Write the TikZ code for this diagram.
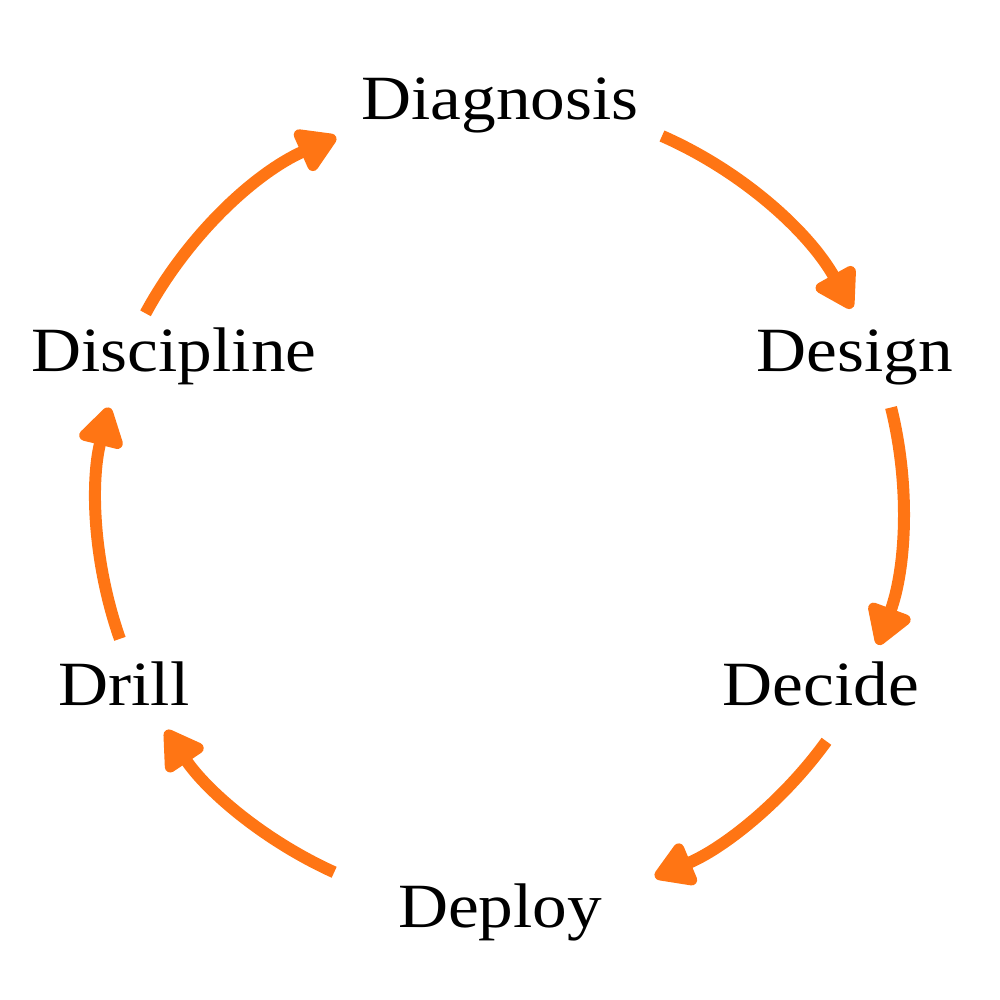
\documentclass[tikz,border=0pt]{standalone}
\usepackage{fontspec}
\setmainfont[FakeStretch=1.1]{Liberation Serif}
\usetikzlibrary{arrows.meta,calc}
\definecolor{arrorange}{RGB}{255,117,20}
\begin{document}
\begin{tikzpicture}[x=1pt,y=1pt,
  lbl/.style={anchor=base,inner sep=0pt,font=\fontsize{63}{70}\selectfont},
  arr/.style={draw=arrorange,line width=12pt,
    -{Triangle[width=50pt,length=44pt,round]},line join=round}]
\useasboundingbox (0,0) rectangle (1000,1000);
\coordinate (O) at (500,495);
\node[lbl] (diag) at (500,880) {Diagnosis};
\node[lbl] (desi) at (855,628) {Design};
\node[lbl] (deci) at (821,294) {Decide};
\node[lbl] (depl) at (500,72) {Deploy};
\node[lbl] (dril) at (124,294) {Drill};
\node[lbl] (disc) at (174,628) {Discipline};
\def\R{403}
\coordinate (s1) at ($(O)+(66.3:\R)$);
\coordinate (s2) at ($(O)+(14:\R)$);
\coordinate (s3) at ($(O)+(-35.9:\R)$);
\coordinate (s4) at ($(O)+(245.7:\R)$);
\coordinate (s5) at ($(O)+(199.4:\R)$);
\coordinate (s6) at ($(O)+(151.6:\R)$);
\draw[arr] (s1) arc[start angle=66.3, end angle=29.2, radius=\R];
\draw[arr] (s2) arc[start angle=14, end angle=-20.3, radius=\R];
\draw[arr] (s3) arc[start angle=-35.9, end angle=-67.4, radius=\R];
\draw[arr] (s4) arc[start angle=245.7, end angle=214, radius=\R];
\draw[arr] (s5) arc[start angle=199.4, end angle=166, radius=\R];
\draw[arr] (s6) arc[start angle=151.6, end angle=114, radius=\R];
\end{tikzpicture}
\end{document}
